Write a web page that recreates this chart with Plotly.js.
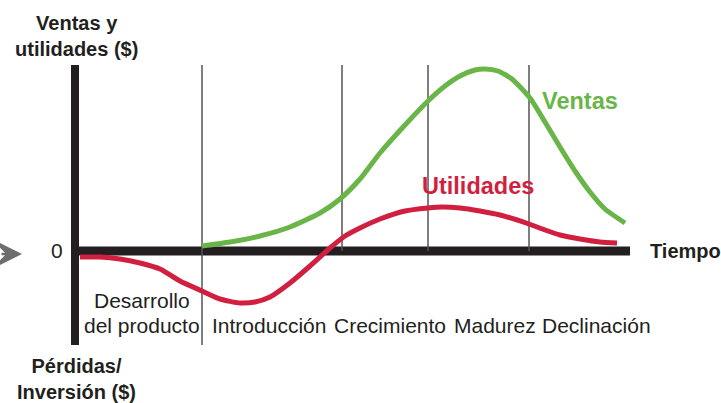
<!DOCTYPE html>
<html>
<head>
<meta charset="utf-8">
<script src="https://cdn.plot.ly/plotly-3.0.1.min.js"></script>
<style>
  html, body { margin: 0; padding: 0; background: #fff; }
  #chart { width: 721px; height: 403px; }
</style>
</head>
<body>
<div id="chart"></div>
<script>
// time runs from 0 (start of development) to the end of the axis,
// money is in arbitrary units, 0 = break even
var ventasT = [12.7, 15.5, 18.5, 21.5, 24.5, 26.5, 28.5, 30.5, 33.0, 35.3, 37.0,
    38.5, 40.0, 41.0, 42.3, 43.7, 45.5, 47.0, 48.5, 50.0, 51.5, 53.0, 55.0];
var ventasV = [0.5, 0.9, 1.5, 2.4, 3.8, 5.2, 7.2, 9.8, 12.6, 15.0, 16.5,
    17.5, 18.1, 18.2, 18.0, 17.2, 15.3, 12.9, 10.4, 8.0, 5.9, 4.2, 2.8];

var utilT = [0.5, 2.5, 4.5, 6.5, 8.5, 10.5, 12.7, 14.5, 16.5, 18.0, 19.5, 21.5,
    23.5, 25.5, 27.0, 28.5, 30.5, 33.0, 35.3, 36.7, 38.5, 40.5, 42.5, 45.4,
    47.0, 48.5, 50.5, 52.5, 54.2];
var utilV = [-0.6, -0.6, -0.8, -1.2, -1.8, -3.0, -4.0, -4.8, -5.2, -5.1, -4.6, -3.2,
    -1.5, 0.3, 1.5, 2.3, 3.2, 4.0, 4.3, 4.4, 4.3, 4.0, 3.6, 2.7,
    2.1, 1.6, 1.2, 0.9, 0.8];

var etapas = ["Introducción", "Crecimiento", "Madurez", "Declinación"];
var etapaLabelX = [13.5, 25.7, 37.7, 46.5];
var limitesEtapas = [12.7, 26.7, 35.3, 45.4];

const TIME_END = 55.5;
const Y_TOP = 18.6;
const Y_BOTTOM = -9.4;

const GREEN = '#6ab547';
const RED = '#d11f3f';
const DARK = '#231f20';
const FONT = 'Liberation Sans, Arial, sans-serif';

var ventas = {
    x: ventasT,
    y: ventasV,
    mode: 'lines',
    line: { color: GREEN, width: 5, shape: 'spline', smoothing: 0.6 },
    hoverinfo: 'skip'
};

var utilidades = {
    x: utilT,
    y: utilV,
    mode: 'lines',
    line: { color: RED, width: 5, shape: 'spline', smoothing: 0.6 },
    hoverinfo: 'skip'
};

var shapes = [
    // thick axes
    { type: 'line', x0: 0, x1: 0, y0: Y_TOP, y1: Y_BOTTOM,
      line: { color: DARK, width: 8 }, layer: 'below' },
    { type: 'line', x0: 0, x1: TIME_END, y0: 0, y1: 0,
      line: { color: DARK, width: 9 }, layer: 'below' }
];
limitesEtapas.forEach(function (t, i) {
    shapes.push({
        type: 'line', x0: t, x1: t, y0: Y_TOP, y1: i === 0 ? Y_BOTTOM : 0,
        line: { color: '#555', width: 1.5 }, layer: 'below'
    });
});

function txt(text, x, y, opts) {
    var a = {
        text: text, x: x, y: y, xref: 'x', yref: 'y',
        showarrow: false, xanchor: 'center', yanchor: 'middle',
        font: { family: FONT, size: 21, color: DARK }
    };
    for (var k in opts) { a[k] = opts[k]; }
    return a;
}

var bold = { family: FONT, size: 20, color: DARK, weight: 'bold' };

var annotations = [
    txt('Ventas y<br>utilidades ($)', 0.1, 21.5, { font: bold }),
    txt('Pérdidas/<br>Inversión ($)', 0.1, -12.8, { font: bold }),
    txt('Tiempo', 57.3, 0, { xanchor: 'left', font: bold }),
    txt('0', -1.8, 0.1, {}),
    txt('Ventas', 46.5, 15.0, { xanchor: 'left',
        font: { family: FONT, size: 23.5, color: GREEN, weight: 'bold' } }),
    txt('Utilidades', 34.5, 6.5, { xanchor: 'left',
        font: { family: FONT, size: 23.5, color: RED, weight: 'bold' } }),
    txt('Desarrollo', 6.7, -4.9, {}),
    txt('del producto', 6.7, -7.4, {}),
    // arrow on the left edge
    { x: -5.3, y: -0.3, xref: 'x', yref: 'y', text: '', showarrow: true,
      ax: -30, ay: 0, arrowhead: 3, arrowsize: 2.1, arrowwidth: 2.5,
      arrowcolor: '#6d6d6d' }
];
etapas.forEach(function (name, i) {
    annotations.push(txt(name, etapaLabelX[i], -7.4, { xanchor: 'left' }));
});

var layout = {
    width: 721,
    height: 403,
    margin: { l: 0, r: 0, t: 0, b: 0 },
    paper_bgcolor: '#fff',
    plot_bgcolor: '#fff',
    showlegend: false,
    xaxis: { range: [-7.5, 64.6], visible: false, fixedrange: true },
    yaxis: { range: [-15.2, 25.1], visible: false, fixedrange: true },
    shapes: shapes,
    annotations: annotations
};

Plotly.newPlot('chart', [ventas, utilidades], layout, { staticPlot: true });
</script>
</body>
</html>
